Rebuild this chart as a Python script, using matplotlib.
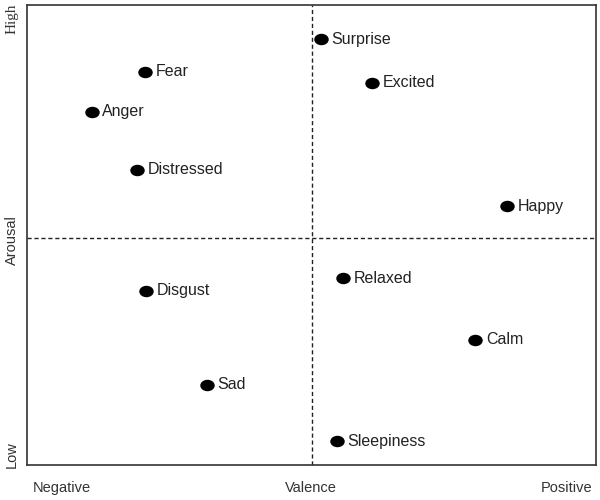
import matplotlib
matplotlib.use('Agg')
import matplotlib.pyplot as plt
from matplotlib.path import Path
from matplotlib.transforms import Affine2D

# emotion positions on the valence/arousal plane (-1..1)
emotions = ['Surprise', 'Excited', 'Fear', 'Anger', 'Distressed', 'Happy',
            'Relaxed', 'Disgust', 'Calm', 'Sad', 'Sleepiness']
valence = [0.033, 0.213, -0.585, -0.772, -0.613, 0.687,
           0.111, -0.582, 0.575, -0.367, 0.090]
arousal = [0.865, 0.674, 0.722, 0.548, 0.296, 0.139,
           -0.174, -0.230, -0.443, -0.639, -0.883]

x_labels = ['Negative', 'Valence', 'Positive']
y_labels = ['Low', 'Arousal', 'High']

plt.rcParams['font.family'] = ['Liberation Sans', 'DejaVu Sans']

fig = plt.figure(figsize=(6, 5), dpi=100)
ax = fig.add_axes([0.045, 0.07, 0.949, 0.92])

ax.axvline(0, color='#222222', linestyle=(0, (3, 2)), linewidth=1)
ax.axhline(0, color='#222222', linestyle=(0, (3, 2)), linewidth=1)

# slightly flattened dots like the original
ellipse = Path.unit_circle().transformed(Affine2D().scale(1.3, 1.0))
ax.plot(valence, arousal, marker=ellipse, color='black', markersize=9.4, linestyle='none')
for name, vx, vy in zip(emotions, valence, arousal):
    ax.annotate(name, (vx, vy), xytext=(7.5, 0), textcoords='offset points',
                va='center', ha='left', fontsize=11.5, color='#222222')

ax.set_xlim(-1, 1)
ax.set_ylim(-0.987, 1.013)
ax.set_xticks([])
ax.set_yticks([])
for s in ax.spines.values():
    s.set_color('#333333')
    s.set_linewidth(1.2)

# axis end labels
fig.text(0.103, 0.024, x_labels[0], ha='center', va='center', fontsize=10.5, color='#333333')
fig.text(0.518, 0.024, x_labels[1], ha='center', va='center', fontsize=10.5, color='#333333')
fig.text(0.945, 0.024, x_labels[2], ha='center', va='center', fontsize=10.5, color='#333333')
fig.text(0.02, 0.09, y_labels[0], ha='center', va='center', rotation=90, fontsize=10.5, color='#333333')
fig.text(0.02, 0.52, y_labels[1], ha='center', va='center', rotation=90, fontsize=10.5, color='#333333')
fig.text(0.02, 0.963, y_labels[2], ha='center', va='center', rotation=90, fontsize=11,
         color='#333333', family='Liberation Serif')

fig.savefig('out.png', dpi=100)
